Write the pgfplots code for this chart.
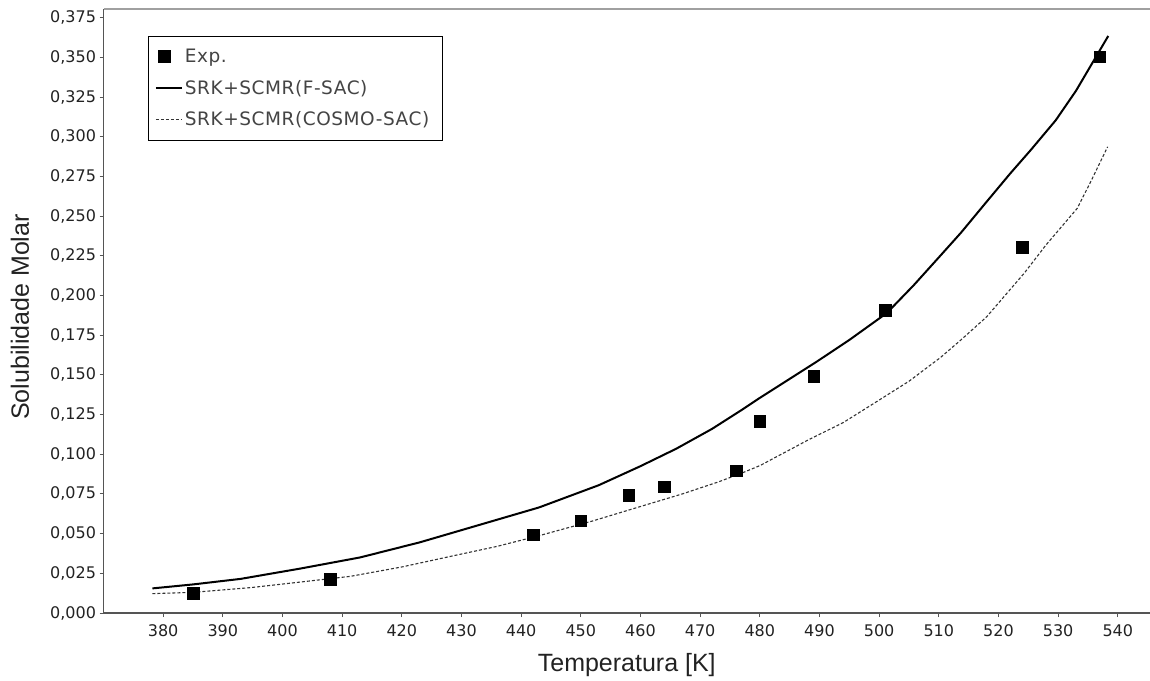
\documentclass[border=0pt]{standalone}
\usepackage{fontspec}
\setmainfont{Liberation Sans}
\newfontfamily\tickfont{DejaVu Sans}
\newfontfamily\legfont[LetterSpace=3]{DejaVu Sans}
\usepackage{pgfplots}
\pgfplotsset{compat=1.18}
\definecolor{axgray}{HTML}{555555}
\definecolor{topgray}{HTML}{A0A0A0}
\definecolor{txtgray}{HTML}{222222}
\definecolor{leggray}{HTML}{444444}
\begin{document}
\begin{tikzpicture}[x=1pt,y=1pt]
\useasboundingbox (0,0) rectangle (1150,680);
\begin{axis}[
  at={(103.5pt,67pt)}, anchor=south west,
  scale only axis, width=1046.5pt, height=604pt,
  xmin=370, xmax=545.4, ymin=0, ymax=0.3805,
  axis x line*=bottom, axis y line*=left,
  axis line style={-, color=axgray, line width=1.5pt},
  tick align=outside, major tick length=4pt,
  tick style={color=axgray, line width=1pt},
  xtick={380,390,400,410,420,430,440,450,460,470,480,490,500,510,520,530,540},
  ytick={0,0.025,0.05,0.075,0.1,0.125,0.15,0.175,0.2,0.225,0.25,0.275,0.3,0.325,0.35,0.375},
  scaled y ticks=false,
  /pgf/number format/assume math mode=true,
  ticklabel style={font=\tickfont\fontsize{16}{16}\selectfont, text=txtgray},
  yticklabel style={/pgf/number format/.cd, fixed, fixed zerofill, precision=3, use comma},
  xticklabel style={yshift=-4pt, /pgf/number format/.cd, fixed, precision=0, 1000 sep={}},
  xlabel={Temperatura [K]},
  ylabel={Solubilidade Molar},
  label style={font=\fontsize{25}{25}\selectfont, text=txtgray},
  xlabel style={at={(axis description cs:0.5,-0.0865)}, anchor=center},
  ylabel style={at={(axis description cs:-0.0798,0.49)}, anchor=center},
  legend style={at={(axis description cs:0.0428,0.9558)}, anchor=north west,
    draw=black, line width=1.2pt, font=\legfont\fontsize{18.5}{18.5}\selectfont,
    text=leggray, row sep=12pt, inner xsep=6pt, inner ysep=11pt},
  legend cell align=left,
]
\addplot[only marks, mark=square*, mark size=5.8pt, black] coordinates {
(385,0.0124) (408,0.0212) (442,0.0494) (450,0.0582) (458,0.0742) (464,0.0796)
(476,0.0896) (480,0.1208) (489,0.1490) (501,0.1908) (524,0.2303) (537,0.3504)
};
\addlegendentry{Exp.}
\addplot[black, line width=2pt, no marks,
  legend image code/.code={\draw[black, line width=2pt] (0pt,0pt) -- (26pt,0pt);}] coordinates {
(378.2,0.0155) (385,0.0180) (393,0.0215) (403,0.0280) (413,0.0350) (423,0.0445)
(433,0.0555) (443,0.0665) (453,0.0805) (460,0.0925) (466,0.1035) (472,0.1160)
(477,0.1280) (480,0.1355) (489.4,0.1580) (495,0.1720) (501.3,0.1890) (505.8,0.2065)
(510,0.2240) (513.7,0.2395) (518,0.2590) (522,0.2770) (525.4,0.2916) (529.6,0.3104)
(533,0.3290) (538.4,0.3635)
};
\addlegendentry{SRK+SCMR(F-SAC)}
\addplot[black!80, line width=1.1pt, dash pattern=on 3pt off 2pt, no marks,
  legend image code/.code={\draw[black!80, line width=1.1pt, dash pattern=on 3pt off 2pt] (0pt,0pt) -- (26pt,0pt);}] coordinates {
(378.2,0.0122) (385,0.0130) (394.7,0.0160) (403,0.0195) (411.4,0.0231) (420,0.0290)
(428.2,0.0357) (436,0.0420) (443.3,0.0490) (452,0.0580) (460.1,0.0672) (467,0.0750)
(473,0.0825) (476.9,0.0880) (480.1,0.0930) (488,0.1088) (494,0.1200) (499.1,0.1320)
(505,0.1460) (510.3,0.1610) (513.7,0.1720) (518,0.1865) (524.3,0.2140) (528,0.2320)
(533.2,0.2549) (535.5,0.2720) (538.3,0.2937)
};
\addlegendentry{SRK+SCMR(COSMO-SAC)\hspace*{5pt}}
\draw[topgray, line width=2pt] (rel axis cs:0,1) -- (rel axis cs:1,1);
\end{axis}
\end{tikzpicture}
\end{document}
